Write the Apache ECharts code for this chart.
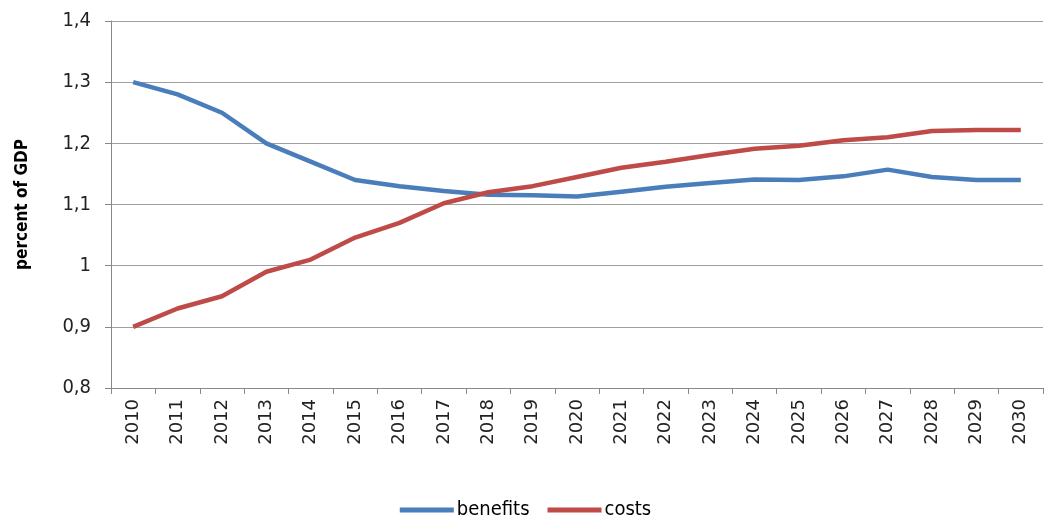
<!DOCTYPE html>
<html><head><meta charset="utf-8">
<script src="https://cdn.jsdelivr.net/npm/echarts@6/dist/echarts.min.js"></script>
<style>html,body{margin:0;padding:0;background:#fff}#c{width:1051px;height:523px}</style>
</head><body><div id="c"></div>
<script>
const years = ['2010','2011','2012','2013','2014','2015','2016','2017','2018','2019','2020','2021','2022','2023','2024','2025','2026','2027','2028','2029','2030'];
const benefits = [1.30,1.28,1.25,1.20,1.17,1.14,1.13,1.122,1.116,1.115,1.113,1.121,1.129,1.135,1.141,1.140,1.146,1.157,1.145,1.140,1.140];
const costs = [0.90,0.93,0.95,0.99,1.01,1.046,1.07,1.102,1.12,1.13,1.145,1.16,1.17,1.181,1.191,1.196,1.205,1.21,1.22,1.222,1.222];
const yTicks = {min:0.8, max:1.4, interval:0.1};
const chart = echarts.init(document.getElementById('c'));
chart.setOption({
  animation:false,
  grid:{left:111,right:8,top:21,bottom:135},
  legend:{bottom:-2,left:'center',itemWidth:54,itemHeight:5,itemGap:18,icon:'rect',
    textStyle:{fontFamily:'DejaVu Sans Condensed, DejaVu Sans',fontSize:20,color:'#000',fontWeight:'normal',padding:[0,0,0,-2]},
    data:['benefits','costs']},
  xAxis:{type:'category',data:years,boundaryGap:true,
    axisLine:{lineStyle:{color:'#888',width:1}},
    axisTick:{show:true,alignWithLabel:false,length:6,lineStyle:{color:'#888'}},
    axisLabel:{rotate:90,fontFamily:'DejaVu Sans',fontSize:18,color:'#222',margin:11}},
  yAxis:{type:'value',min:yTicks.min,max:yTicks.max,interval:yTicks.interval,
    name:'percent of GDP',nameLocation:'middle',nameGap:80,nameRotate:90,
    nameTextStyle:{fontFamily:'DejaVu Sans Condensed, DejaVu Sans',fontWeight:'bold',fontSize:17,color:'#000'},
    axisLine:{show:true,lineStyle:{color:'#888'}},
    axisTick:{show:true,length:6,lineStyle:{color:'#888'}},
    splitLine:{lineStyle:{color:'#a0a0a0',width:1}},
    axisLabel:{fontFamily:'DejaVu Sans Condensed, DejaVu Sans',fontSize:20,color:'#222',margin:20,
      formatter:v=>{const r=Math.round(v*10)/10;return r===1?'1':r.toFixed(1).replace('.',',');}}},
  series:[
    {name:'benefits',type:'line',data:benefits,symbol:'none',lineStyle:{color:'#4a7ebb',width:4.5},itemStyle:{color:'#4a7ebb'}},
    {name:'costs',type:'line',data:costs,symbol:'none',lineStyle:{color:'#be4b48',width:4.5},itemStyle:{color:'#be4b48'}}
  ]
});
</script></body></html>
